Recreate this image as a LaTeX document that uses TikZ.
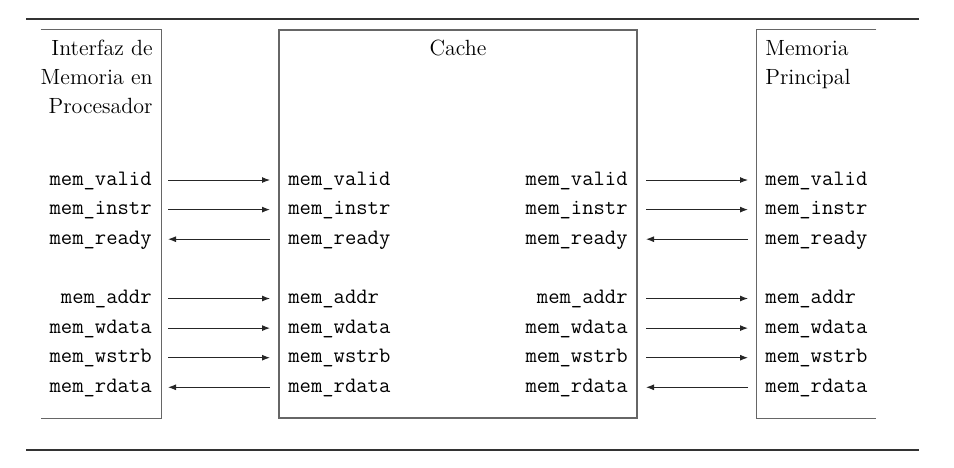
\documentclass[tikz,border=0pt]{standalone}
\usetikzlibrary{arrows.meta}
\begin{document}
\begin{tikzpicture}[x=0.5pt,y=-0.5pt,
  boxline/.style={draw=black!60, line width=0.6pt},
  rulel/.style={draw=black!80, line width=0.9pt},
  sig/.style={font=\fontsize{11}{13}\ttfamily, inner sep=0pt, text height=7pt, text depth=2pt},
  title/.style={font=\fontsize{11}{14.5}\selectfont, inner sep=0pt},
  wire/.style={draw=black!85, line width=0.5pt, -{Latex[length=4pt,width=3pt]}},
  areabox/.style={inner sep=0pt, minimum height=194pt},
]
\useasboundingbox (0,0) rectangle (954,467);
% rules
\coordinate (tl) at (26,19); \coordinate (tr) at (919,19);
\coordinate (bl) at (26,450); \coordinate (br) at (919,450);
\draw[rulel] (tl) -- (tr);
\draw[rulel] (bl) -- (br);
% boxes
\node[areabox, minimum width=60pt] (proc) at (101,224) {};
\node[areabox, minimum width=179pt, boxline] (cache) at (458,224) {};
\node[areabox, minimum width=59.5pt] (mem) at (816.5,224) {};
\draw[boxline] (proc.north west) -- (proc.north east) -- (proc.south east) -- (proc.south west);
\draw[boxline] (mem.north east) -- (mem.north west) -- (mem.south west) -- (mem.south east);
% titles
\node[title, align=right, anchor=north east] (ptitle) at (153,40) {Interfaz de\\Memoria en\\Procesador};
\node[title, anchor=base] (ctitle) at (458,55) {Cache};
\node[title, align=left, anchor=north west] (mtitle) at (765,40) {Memoria\\Principal};
% signals
\foreach \n/\y in {valid/180, instr/209.6, ready/239.2, addr/298.5, wdata/328.1, wstrb/357.7, rdata/387.3}{
  \node[sig, anchor=east] (p\n) at (152,\y) {mem\_\n};
  \node[sig, anchor=west] (cl\n) at (288,\y) {mem\_\n};
  \node[sig, anchor=east] (cr\n) at (628,\y) {mem\_\n};
  \node[sig, anchor=west] (m\n) at (765,\y) {mem\_\n};
}
\foreach \n in {valid, instr, addr, wdata, wstrb}{
  \draw[wire, shorten <=8pt, shorten >=9pt] (p\n.east) -- (cl\n.west);
  \draw[wire, shorten <=9pt, shorten >=8.5pt] (cr\n.east) -- (m\n.west);
}
\foreach \n in {ready, rdata}{
  \draw[wire, shorten <=9pt, shorten >=8pt] (cl\n.west) -- (p\n.east);
  \draw[wire, shorten <=8.5pt, shorten >=9pt] (m\n.west) -- (cr\n.east);
}
\end{tikzpicture}
\end{document}
